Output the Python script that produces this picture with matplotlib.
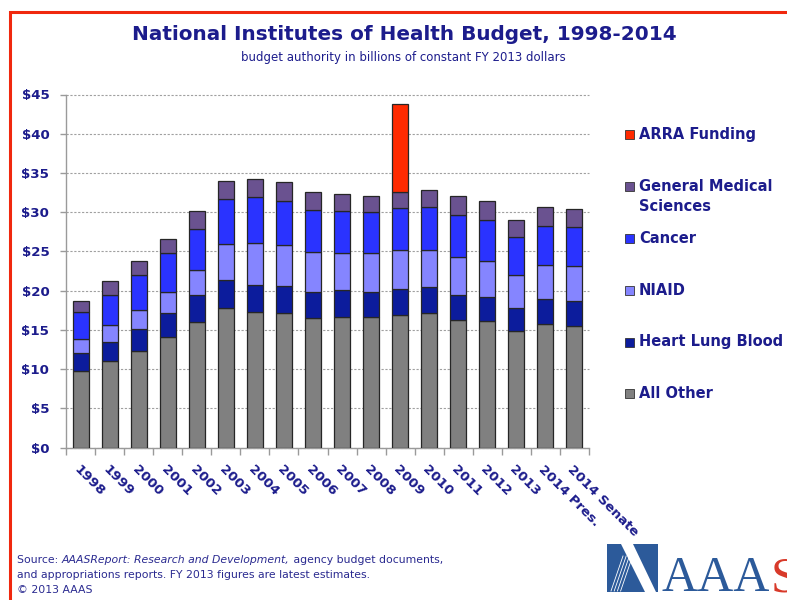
import numpy as np
import matplotlib
matplotlib.use("Agg")
import matplotlib.pyplot as plt
from matplotlib.patches import Rectangle, Polygon
from matplotlib.lines import Line2D

# ---------------- data ----------------
years = ['1998', '1999', '2000', '2001', '2002', '2003', '2004', '2005', '2006',
         '2007', '2008', '2009', '2010', '2011', '2012', '2013', '2014 Pres.', '2014 Senate']
all_other = [9.76, 10.99, 12.35, 14.05, 16.04, 17.74, 17.27, 17.15, 16.51,
             16.68, 16.60, 16.94, 17.15, 16.21, 16.09, 14.90, 15.75, 15.53]
heart_lung_blood = [2.25, 2.47, 2.80, 3.06, 3.40, 3.61, 3.49, 3.48, 3.31,
                    3.35, 3.26, 3.31, 3.31, 3.19, 3.14, 2.88, 3.14, 3.10]
niaid = [1.78, 2.12, 2.34, 2.67, 3.23, 4.58, 5.30, 5.18, 5.05,
         4.76, 4.93, 4.92, 4.71, 4.96, 4.62, 4.25, 4.45, 4.46]
cancer = [3.52, 3.90, 4.50, 4.97, 5.22, 5.73, 5.86, 5.64, 5.39,
          5.39, 5.18, 5.35, 5.48, 5.27, 5.10, 4.80, 4.93, 5.01]
general_medical = [1.40, 1.70, 1.78, 1.86, 2.25, 2.38, 2.33, 2.38, 2.30,
                   2.16, 2.12, 2.12, 2.12, 2.46, 2.54, 2.20, 2.46, 2.33]
arra = [0, 0, 0, 0, 0, 0, 0, 0, 0, 0, 0, 11.21, 0, 0, 0, 0, 0, 0]
y_ticks = [0, 5, 10, 15, 20, 25, 30, 35, 40, 45]

series_names = ['All Other', 'Heart Lung Blood', 'NIAID', 'Cancer',
                'General Medical\nSciences', 'ARRA Funding']
series_values = [all_other, heart_lung_blood, niaid, cancer, general_medical, arra]
series_colors = ['#808080', '#0c1c9c', '#8585ff', '#2a33ff', '#6a5290', '#ff2a00']

NAVY = '#1c1c8c'

W, H = 787, 600
fig = plt.figure(figsize=(W / 100, H / 100), dpi=100)
fig.patch.set_facecolor('white')

def fx(x):
    return x / W

def fy(y):
    return 1 - y / H

ax = fig.add_axes([fx(66), fy(447.7), fx(589) - fx(66), fy(94.5) - fy(447.7)])

x = np.arange(len(years))
bw = 0.55
bottom = np.zeros(len(years))
for name, vals, col in zip(series_names, series_values, series_colors):
    v = np.asarray(vals, dtype=float)
    m = v > 0
    ax.bar(x[m], v[m], width=bw, bottom=bottom[m], color=col,
           edgecolor='#262626', linewidth=0.9, zorder=3)
    bottom = bottom + v

ax.set_xlim(-0.5, len(years) - 0.5)
ax.set_ylim(0, 45)
ax.set_yticks(y_ticks)
ax.set_yticklabels([f'${v}' for v in y_ticks], fontsize=9.6,
                   fontweight='bold', color=NAVY)
ax.set_xticks(x)
ax.set_xticklabels(years, rotation=-45, ha='left', va='top',
                   rotation_mode='anchor', fontsize=9.6,
                   fontweight='bold', color=NAVY)
ax.set_xticks(np.arange(-0.5, len(years), 1), minor=True)
ax.tick_params(axis='x', which='major', length=0, pad=11)
ax.tick_params(axis='x', which='minor', length=5, color='#9a9a9a', width=1)
ax.tick_params(axis='y', which='major', length=4, color='#9a9a9a', width=1, pad=8)
ax.yaxis.grid(True, linestyle=(0, (2, 1.5)), color='#a0a0a0', linewidth=0.8, zorder=0)
for gl in ax.yaxis.get_gridlines():
    gl.set_clip_on(False)
ax.set_axisbelow(True)
for s in ['top', 'right']:
    ax.spines[s].set_visible(False)
for s in ['left', 'bottom']:
    ax.spines[s].set_color('#9a9a9a')
    ax.spines[s].set_linewidth(1.0)

# ---------------- titles ----------------
fig.text(fx(404), fy(35), 'National Institutes of Health Budget, 1998-2014',
         fontweight='bold', fontsize=14.4, color=NAVY,
         ha='center', va='center')
fig.text(fx(403), fy(57), 'budget authority in billions of constant FY 2013 dollars',
         fontsize=8.5, color=NAVY, ha='center', va='center')

# ---------------- legend ----------------
leg_y = [393, 342, 290, 238, 196.5, 134]
for name, col, yy in zip(series_names, series_values and series_colors, leg_y):
    ty = yy if '\n' not in name else 186
    fig.patches.append(Rectangle((fx(625), fy(ty + 4.5)), fx(9), 9 / H,
                                 transform=fig.transFigure, facecolor=col,
                                 edgecolor='#333333', linewidth=0.6))
    fig.text(fx(639), fy(yy), name, fontsize=10.5, fontweight='bold',
             color=NAVY, ha='left', va='center', linespacing=1.45)

# ---------------- source ----------------
SRC = '#2a2a90'
t1 = fig.text(fx(17), fy(560), 'Source: ', fontsize=7.8, color=SRC,
              ha='left', va='center')
t2 = ax.annotate('AAASReport: Research and Development,', xy=(1, 0),
                 xycoords=t1, fontsize=7.8, color=SRC, style='italic',
                 ha='left', va='bottom', annotation_clip=False)
ax.annotate(' agency budget documents,', xy=(1, 0), xycoords=t2,
            fontsize=7.8, color=SRC, ha='left', va='bottom', annotation_clip=False)
fig.text(fx(17), fy(575), 'and appropriations reports. FY 2013 figures are latest estimates.',
         fontsize=7.8, color=SRC, ha='left', va='center')
fig.text(fx(17), fy(590), '\u00a9 2013 AAAS', fontsize=7.8, color=SRC,
         ha='left', va='center')

# ---------------- logo ----------------
BLUE = '#2c5a9a'
fig.patches.append(Rectangle((fx(607), fy(592)), fx(51), 48 / H,
                             transform=fig.transFigure, facecolor=BLUE,
                             edgecolor='none'))
fig.patches.append(Polygon([(fx(621), fy(544)), (fx(633), fy(544)),
                            (fx(656), fy(592)), (fx(645), fy(592))],
                           closed=True, transform=fig.transFigure,
                           facecolor='white', edgecolor='none'))
for k in range(4):
    x0 = 611 + k * 3.2
    fig.lines.append(Line2D([fx(x0), fx(x0 + 12)], [fy(591), fy(556)],
                            transform=fig.transFigure, color='white', lw=0.6))
fig.text(fx(661), fy(591), 'AAA', family='Liberation Serif', fontsize=36,
         color=BLUE, ha='left', va='baseline')
fig.text(fx(771), fy(591), 'S', family='Liberation Serif', fontsize=36,
         color='#d83a2a', ha='left', va='baseline')

# ---------------- frame ----------------
fig.lines.append(Line2D([fx(10), fx(10), 1.0], [0.0, fy(12), fy(12)],
                        transform=fig.transFigure, color='#f0280e', lw=2.2,
                        solid_joinstyle='miter'))

fig.savefig('out.png', dpi=100, facecolor='white')
